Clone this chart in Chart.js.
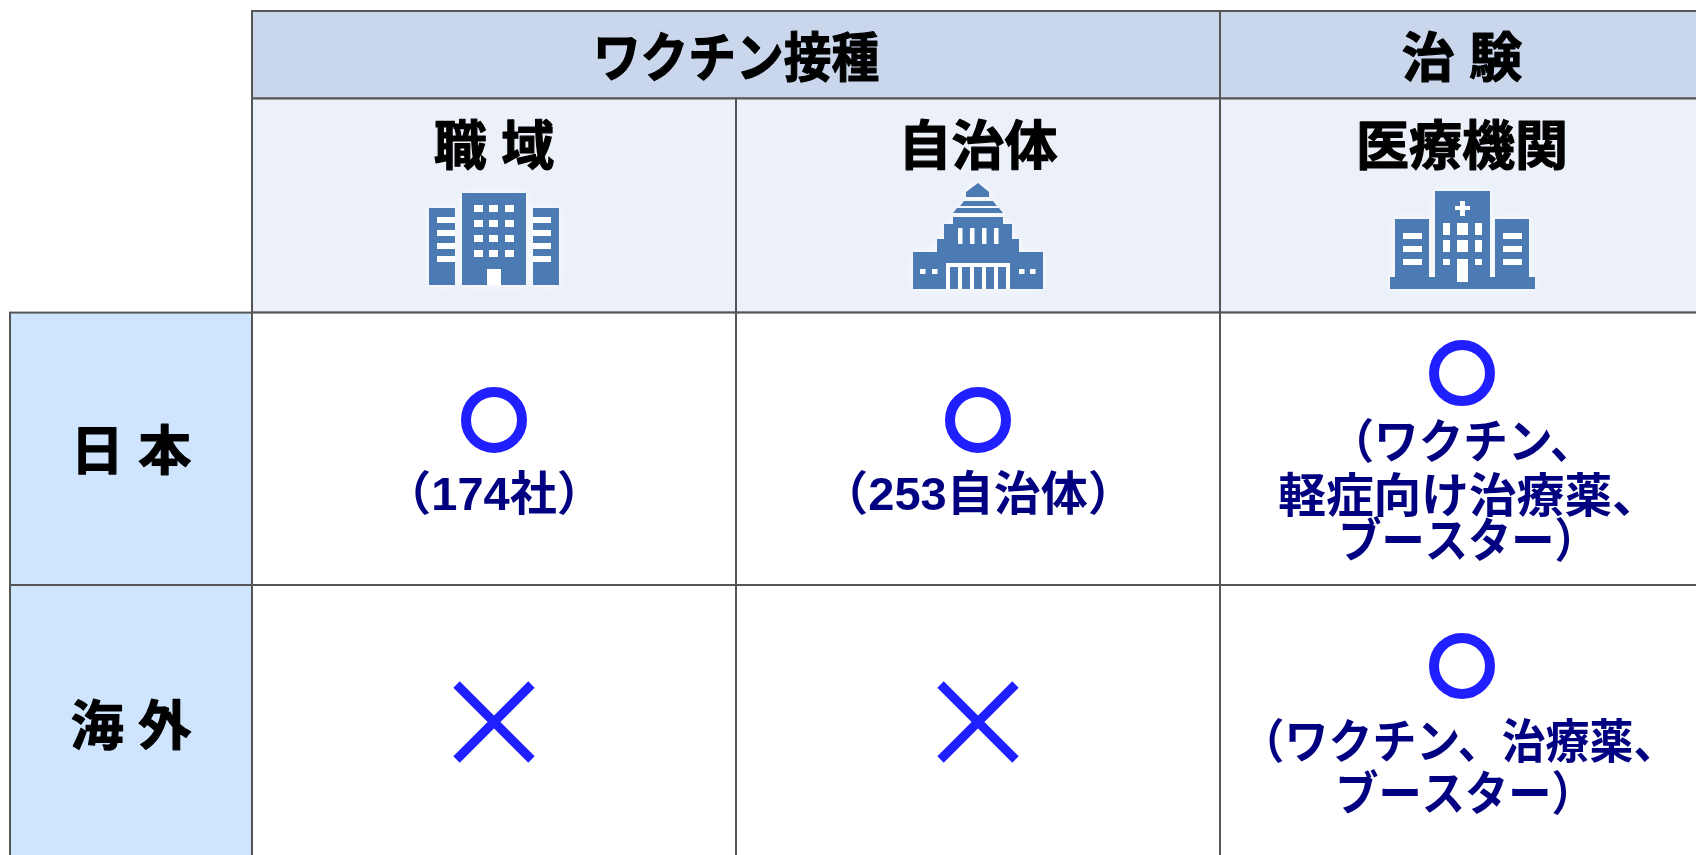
<!DOCTYPE html>
<html>
<head>
<meta charset="utf-8">
<title>ワクチン接種 / 治験</title>
<script src="https://cdn.jsdelivr.net/npm/chart.js@4"></script>
<style>
	html, body { margin: 0; padding: 0; background: #fff; overflow: hidden; }
	canvas { display: block; }
</style>
</head>
<body>
<canvas id="myChart" width="1696" height="855"></canvas>
<script>
// table content
const groups = ['ワクチン接種', '治 験'];
const sites = ['職 域', '自治体', '医療機関'];
const regions = ['日 本', '海 外'];
const notes = [
	['（174社）', '（253自治体）', '（ワクチン、\n軽症向け治療薬、\nブースター）'],
	['', '', '（ワクチン、治療薬、\nブースター）']
];

// ○ and × marks: column number + fraction, row number + fraction
const circle_x = [0.5, 1.5, 2.5, 2.5];
const circle_y = [0.394, 0.394, 0.222, 1.297];
const cross_x = [0.5, 1.5];
const cross_y = [1.503, 1.503];

const LINE = '#555555';
const NAVY = '#000080';
const MARK = '#1f1fff';
const ICON = '#4c7ab3';
const FONT = '"Liberation Sans", "Noto Sans CJK JP", sans-serif';

// one x unit = one column, one y unit = one body row
const COL_W = 484, ROW_H = 272.4;
const X0 = 252, Y0 = 312.6;

function draw_cell(ctx, sx, sy, x1, x2, y1, y2, fill) {
	const l = sx.getPixelForValue(x1), r = sx.getPixelForValue(x2);
	const t = sy.getPixelForValue(y1), b = sy.getPixelForValue(y2);
	ctx.fillStyle = fill;
	ctx.fillRect(l, t, r - l, b - t);
	ctx.strokeStyle = LINE;
	ctx.lineWidth = 2;
	ctx.strokeRect(l, t, r - l, b - t);
}

function draw_label(ctx, text, x, y, size, color, stretch, heavy) {
	ctx.save();
	ctx.font = `bold ${size}px ${FONT}`;
	ctx.fillStyle = color;
	ctx.textAlign = 'center';
	ctx.textBaseline = 'middle';
	ctx.translate(x, y);
	ctx.scale(stretch || 1, 1);
	if (heavy) {
		ctx.strokeStyle = color;
		ctx.lineWidth = heavy;
		ctx.lineJoin = 'round';
		ctx.strokeText(text, 0, 0);
	}
	ctx.fillText(text, 0, 0);
	ctx.restore();
}

// icons are drawn around the column centre, parts are [x, y, w, h] in px or polygons
function draw_parts(ctx, cx, solid, holes) {
	ctx.save();
	ctx.translate(cx, 0);
	ctx.shadowColor = '#ffffff';
	ctx.shadowBlur = 9;
	ctx.fillStyle = ICON;
	ctx.beginPath();
	solid.forEach(p => {
		if (p.length === 4 && !Array.isArray(p[0])) ctx.rect(p[0], p[1], p[2], p[3]);
		else {
			ctx.moveTo(p[0][0], p[0][1]);
			p.slice(1).forEach(q => ctx.lineTo(q[0], q[1]));
			ctx.closePath();
		}
	});
	ctx.fill();
	ctx.shadowBlur = 0;
	holes.forEach(h => {
		ctx.fillStyle = h[4] || '#ffffff';
		ctx.fillRect(h[0], h[1], h[2], h[3]);
	});
	ctx.restore();
}

function office_icon(ctx, cx) {
	const holes = [[-7, 269, 14, 16]];
	[-20, -5, 11].forEach(x => [205, 220, 235, 250].forEach(y => holes.push([x, y, 9, 7])));
	[217, 230, 243, 256].forEach(y => {
		holes.push([-57, y, 18, 6]);
		holes.push([39, y, 18, 6]);
	});
	draw_parts(ctx, cx, [[-65, 208, 26, 77], [-32, 193, 64, 92], [39, 208, 26, 77]], holes);
}

function diet_icon(ctx, cx) {
	const solid = [
		[[0, 183], [11, 192], [11, 197], [-12, 197], [-12, 192]],
		[[-14, 201], [15, 201], [19, 206], [-18, 206]],
		[[-21, 208], [21, 208], [25, 213], [-25, 213]],
		[-25, 217, 50, 8],
		[-34, 224, 68, 16],
		[-41, 239, 82, 14],
		[-65, 252, 130, 37]
	];
	const holes = [[-32, 263, 64, 26]];
	[-20, -8, 4, 16].forEach(x => holes.push([x, 228, 4.5, 16]));
	[-58, -46, 41, 52].forEach(x => holes.push([x, 269, 5.5, 5]));
	[-28, -16, -4, 8, 20].forEach(x => holes.push([x, 267, 8, 22, ICON]));
	draw_parts(ctx, cx, solid, holes);
}

function hospital_icon(ctx, cx) {
	const solid = [[-72, 277, 145, 12], [-67, 219, 34, 58], [-27, 191, 55, 86], [33, 219, 34, 58]];
	const holes = [[-7, 206, 15, 4], [-2, 201, 5, 15]];
	[-19, -5, 13].forEach((x, i) => [223, 240].forEach(y => holes.push([x, y, i === 1 ? 11 : 7, 12])));
	holes.push([-19, 259, 7, 6], [13, 259, 7, 6], [-5, 259, 11, 23]);
	[233, 246, 259].forEach(y => {
		holes.push([-59, y, 19, 6]);
		holes.push([41, y, 19, 6]);
	});
	draw_parts(ctx, cx, solid, holes);
}

const table_plugin = {
	id: 'table_plugin',
	beforeDatasetsDraw(chart) {
		const { ctx, scales: { x: sx, y: sy } } = chart;
		const top = -(Y0 - 11) / ROW_H, mid = -(Y0 - 98.5) / ROW_H;

		draw_cell(ctx, sx, sy, 0, 2, top, mid, '#c9d6ec');
		draw_cell(ctx, sx, sy, 2, 4, top, mid, '#c9d6ec');
		for (let c = 0; c < 3; c++) {
			draw_cell(ctx, sx, sy, c, c + 1, mid, 0, '#ebf0f9');
		}
		for (let r = 0; r < 2; r++) {
			draw_cell(ctx, sx, sy, -0.5, 0, r, r + 1, '#cfe5fd');
			for (let c = 0; c < 3; c++) {
				draw_cell(ctx, sx, sy, c, c + 1, r, r + 1, '#ffffff');
			}
		}
	},
	afterDatasetsDraw(chart) {
		const { ctx, scales: { x: sx } } = chart;
		const col = v => sx.getPixelForValue(v);

		draw_label(ctx, groups[0], col(1), 62, 53, '#000000', 0.9, 1.2);
		draw_label(ctx, groups[1], col(2.5), 62, 53, '#000000', 1, 1.2);
		sites.forEach((s, i) => draw_label(ctx, s, col(i + 0.5), 150, 53, '#000000', 1, 1.2));
		office_icon(ctx, col(0.5));
		diet_icon(ctx, col(1.5));
		hospital_icon(ctx, col(2.5));

		const rowsY = [455, 730];
		regions.forEach((s, i) => draw_label(ctx, s, col(-0.25), rowsY[i], 53, '#000000', 1, 1.2));

		// each line: [y, x shift, width stretch]
		const noteLines = [
			[[[497, 0, 1]], [[497, 0, 1]], [[445, 0, 0.95], [499, 7, 1.015], [544, 6, 0.92]]],
			[[], [], [[745, -3, 0.935], [797, 3, 0.92]]]
		];
		notes.forEach((row, r) => row.forEach((text, c) => {
			if (!text) return;
			text.split('\n').forEach((line, i) => {
				const [y, shift, stretch] = noteLines[r][c][i];
				draw_label(ctx, line, col(c + 0.5) + shift, y, 47, NAVY, stretch);
			});
		}));
	}
};

var ctx = document.getElementById('myChart').getContext('2d');
var myChart = new Chart(ctx, {
	type: 'scatter',
	data: {
		datasets: [
			{
				label: '○',
				data: circle_x.map((x, i) => ({ x: x, y: circle_y[i] })),
				pointStyle: 'circle',
				pointRadius: 28,
				pointBorderWidth: 10,
				pointBorderColor: MARK,
				pointBackgroundColor: 'rgba(0,0,0,0)',
				clip: false
			},
			{
				label: '×',
				data: cross_x.map((x, i) => ({ x: x, y: cross_y[i] })),
				pointStyle: 'crossRot',
				pointRadius: 53,
				pointBorderWidth: 9,
				pointBorderColor: MARK,
				clip: false
			}
		]
	},
	plugins: [table_plugin],
	options: {
		responsive: false,
		animation: false,
		layout: { padding: 0, autoPadding: false },
		plugins: { legend: { display: false }, tooltip: { enabled: false } },
		scales: {
			x: { type: 'linear', display: false, min: -X0 / COL_W, max: (1696 - X0) / COL_W },
			y: { type: 'linear', display: false, reverse: true, min: -Y0 / ROW_H, max: (855 - Y0) / ROW_H }
		}
	}
});
</script>
</body>
</html>
